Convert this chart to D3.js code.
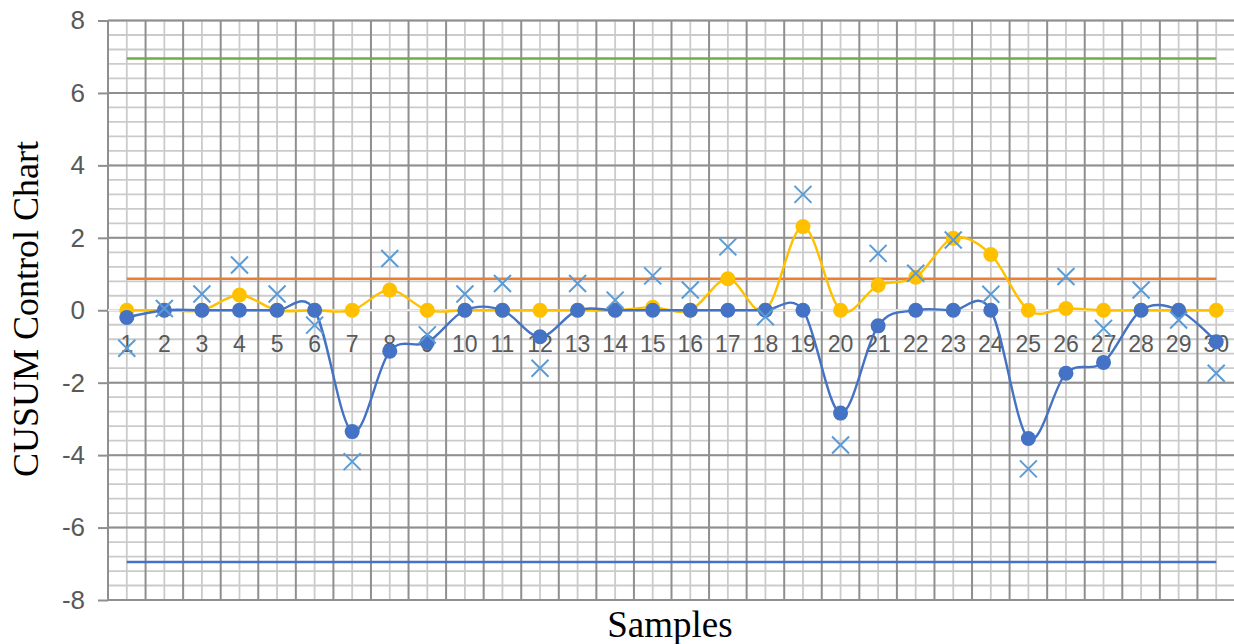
<!DOCTYPE html>
<html>
<head>
<meta charset="utf-8">
<script src="https://cdn.jsdelivr.net/npm/d3@7"></script>
<style>
  body { margin: 0; background: #fff; }
</style>
</head>
<body>
<svg width="1234" height="644"></svg>
<script>
// samples on the x axis
const samples = [1, 2, 3, 4, 5, 6, 7, 8, 9, 10, 11, 12, 13, 14, 15,
                 16, 17, 18, 19, 20, 21, 22, 23, 24, 25, 26, 27, 28, 29, 30];

// standardized observations (x markers)
const observed = [-1.05, 0.05, 0.45, 1.25, 0.45, -0.41, -4.18, 1.43, -0.68, 0.45,
                  0.74, -1.6, 0.74, 0.28, 0.95, 0.56, 1.75, -0.18, 3.2, -3.72,
                  1.57, 1.02, 1.94, 0.44, -4.38, 0.93, -0.5, 0.56, -0.27, -1.74];

// upper cusum (yellow)
const cPlus = [0, 0, 0, 0.42, 0, 0, 0, 0.56, 0, 0,
               0, 0, 0, 0, 0.08, 0, 0.87, 0, 2.31, 0,
               0.69, 0.91, 1.99, 1.54, 0, 0.05, 0, 0, 0, 0];

// lower cusum (blue)
const cMinus = [-0.2, 0, 0, 0, 0, 0, -3.35, -1.13, -0.89, 0,
                0, -0.73, 0, 0, 0, 0, 0, 0, 0, -2.84,
                -0.43, 0, 0, 0, -3.54, -1.74, -1.44, 0, 0, -0.87];

// limit lines
const ucl = 6.95;
const kValue = 0.87;
const lcl = -6.95;

const yTicks = [-8, -6, -4, -2, 0, 2, 4, 6, 8];

const svg = d3.select("svg");

const x = d3.scaleBand()
    .domain(samples)
    .range([108, 1235])
    .padding(0);

const y = d3.scaleLinear()
    .domain([-8, 8])
    .range([600, 20.5]);

const cx = s => x(s) + x.bandwidth() / 2;
const left = x.range()[0], right = x.range()[1];

// grid
const grid = svg.append("g");

// minor horizontal lines, every 0.4
const minorY = d3.range(0, 41).map(i => -8 + i * 0.4);
grid.selectAll(".hminor")
    .data(minorY)
    .enter().append("line")
    .attr("x1", left).attr("x2", right)
    .attr("y1", d => y(d)).attr("y2", d => y(d))
    .attr("stroke", "#cbcbcb")
    .attr("stroke-width", 1.8);

// minor vertical lines at category centres
grid.selectAll(".vminor")
    .data(samples)
    .enter().append("line")
    .attr("x1", d => cx(d)).attr("x2", d => cx(d))
    .attr("y1", y(8)).attr("y2", y(-8))
    .attr("stroke", "#cbcbcb")
    .attr("stroke-width", 1.8);

// major horizontal
grid.selectAll(".hmajor")
    .data(yTicks)
    .enter().append("line")
    .attr("x1", left).attr("x2", right)
    .attr("y1", d => y(d)).attr("y2", d => y(d))
    .attr("stroke", "#8f8f8f")
    .attr("stroke-width", 2);

// major vertical at category boundaries
const bounds = samples.map(s => x(s)).concat([right]);
grid.selectAll(".vmajor")
    .data(bounds)
    .enter().append("line")
    .attr("x1", d => d).attr("x2", d => d)
    .attr("y1", y(8)).attr("y2", y(-8))
    .attr("stroke", "#8f8f8f")
    .attr("stroke-width", 2);

// horizontal category axis at zero (light)
svg.append("line")
    .attr("x1", left).attr("x2", right)
    .attr("y1", y(0)).attr("y2", y(0))
    .attr("stroke", "#f2f2f2")
    .attr("stroke-width", 2);

// y axis
const yAxis = svg.append("g")
    .attr("transform", `translate(${left},0)`)
    .call(d3.axisLeft(y).tickValues(yTicks).tickSize(10).tickPadding(13).tickFormat(d => String(d)));
yAxis.select(".domain").remove();
yAxis.selectAll(".tick line").attr("stroke", "#8f8f8f").attr("stroke-width", 2);
yAxis.selectAll(".tick text")
    .attr("fill", "#595959")
    .attr("font-size", 26)
    .style("font-family", "'Liberation Sans', Arial, sans-serif")
    .style("font-size", "26px");

// category labels next to zero line
svg.append("g").selectAll("text")
    .data(samples)
    .enter().append("text")
    .attr("x", d => cx(d))
    .attr("y", y(0) + 42)
    .attr("text-anchor", "middle")
    .attr("fill", "#595959")
    .style("font-family", "'Liberation Sans', Arial, sans-serif")
    .style("font-size", "23px")
    .text(d => d);

// limit lines
const refLine = (v, color) => svg.append("line")
    .attr("x1", cx(samples[0])).attr("x2", cx(samples[samples.length - 1]))
    .attr("y1", y(v)).attr("y2", y(v))
    .attr("stroke", color)
    .attr("stroke-width", 2.6);
refLine(ucl, "#70AD47");
refLine(kValue, "#ED7D31");
refLine(lcl, "#4472C4");

// smoothed series
const line = d3.line()
    .x((d, i) => cx(samples[i]))
    .y(d => y(d))
    .curve(d3.curveCatmullRom.alpha(0));

const drawSeries = (values, color) => {
    svg.append("path")
        .datum(values)
        .attr("fill", "none")
        .attr("stroke", color)
        .attr("stroke-width", 2.4)
        .attr("d", line);
    svg.append("g").selectAll("circle")
        .data(values)
        .enter().append("circle")
        .attr("cx", (d, i) => cx(samples[i]))
        .attr("cy", d => y(d))
        .attr("r", 7.5)
        .attr("fill", color);
};
drawSeries(cPlus, "#FFC000");
drawSeries(cMinus, "#4472C4");

// x markers
const s = 8.5;
svg.append("g").selectAll("path")
    .data(observed)
    .enter().append("path")
    .attr("transform", (d, i) => `translate(${cx(samples[i])},${y(d)})`)
    .attr("d", `M${-s},${-s}L${s},${s}M${-s},${s}L${s},${-s}`)
    .attr("stroke", "#5B9BD5")
    .attr("stroke-width", 2)
    .attr("fill", "none");

// axis titles
svg.append("text")
    .attr("transform", "translate(38,309) rotate(-90)")
    .attr("text-anchor", "middle")
    .attr("fill", "#000")
    .style("font-family", "'Liberation Serif', 'Times New Roman', serif")
    .style("font-size", "36px")
    .text("CUSUM Control Chart");

svg.append("text")
    .attr("x", 670)
    .attr("y", 637)
    .attr("text-anchor", "middle")
    .attr("fill", "#000")
    .style("font-family", "'Liberation Serif', 'Times New Roman', serif")
    .style("font-size", "37px")
    .text("Samples");
</script>
</body>
</html>
